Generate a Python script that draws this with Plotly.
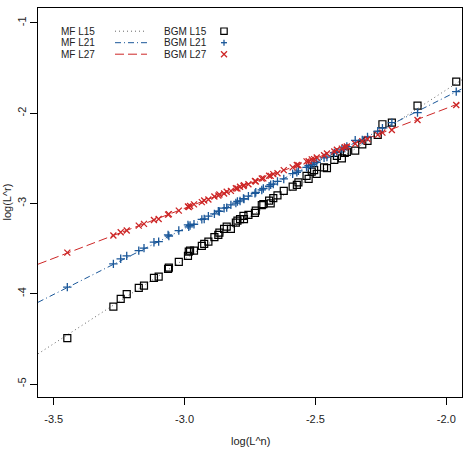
import plotly.graph_objects as go

# ---- data ----
log_Ln = [-3.448, -3.272, -3.244, -3.221, -3.175, -3.155, -3.117, -3.099, -3.063, -3.060,
          -3.022, -2.987, -2.984, -2.979, -2.964, -2.934, -2.925, -2.909, -2.886, -2.871,
          -2.867, -2.849, -2.839, -2.823, -2.804, -2.798, -2.788, -2.775, -2.773, -2.756,
          -2.731, -2.728, -2.705, -2.699, -2.677, -2.671, -2.661, -2.645, -2.621, -2.587,
          -2.571, -2.565, -2.534, -2.526, -2.514, -2.505, -2.495, -2.467, -2.456, -2.428,
          -2.418, -2.399, -2.388, -2.380, -2.348, -2.321, -2.301, -2.262, -2.244, -2.208,
          -2.110, -1.962]

bgm_L15 = [-4.492, -4.142, -4.057, -4.004, -3.935, -3.909, -3.824, -3.810, -3.724, -3.710,
           -3.647, -3.580, -3.533, -3.522, -3.522, -3.470, -3.447, -3.422, -3.373, -3.348,
           -3.322, -3.281, -3.256, -3.281, -3.212, -3.189, -3.174, -3.137, -3.174, -3.126,
           -3.104, -3.079, -3.019, -3.008, -2.968, -2.999, -2.941, -2.910, -2.860, -2.813,
           -2.794, -2.766, -2.694, -2.728, -2.647, -2.631, -2.672, -2.600, -2.609, -2.517,
           -2.473, -2.501, -2.440, -2.429, -2.414, -2.344, -2.307, -2.240, -2.122, -2.104,
           -1.916, -1.650]

bgm_L21 = [-3.927, -3.669, -3.613, -3.580, -3.522, -3.495, -3.429, -3.422, -3.348, -3.360,
           -3.300, -3.237, -3.258, -3.244, -3.230, -3.176, -3.172, -3.140, -3.115, -3.085,
           -3.088, -3.052, -3.046, -3.015, -2.995, -2.978, -2.972, -2.945, -2.950, -2.918,
           -2.888, -2.876, -2.850, -2.834, -2.809, -2.792, -2.785, -2.755, -2.728, -2.670,
           -2.655, -2.638, -2.600, -2.582, -2.571, -2.552, -2.543, -2.495, -2.486, -2.440,
           -2.431, -2.397, -2.388, -2.369, -2.300, -2.296, -2.262, -2.200, -2.166, -2.104,
           -1.993, -1.761]

bgm_L27 = [-3.544, -3.355, -3.318, -3.300, -3.245, -3.226, -3.182, -3.171, -3.123, -3.118,
           -3.079, -3.034, -3.040, -3.027, -3.010, -2.985, -2.966, -2.955, -2.922, -2.913,
           -2.900, -2.890, -2.870, -2.860, -2.832, -2.833, -2.815, -2.808, -2.798, -2.786,
           -2.750, -2.756, -2.724, -2.722, -2.692, -2.694, -2.675, -2.664, -2.630, -2.600,
           -2.574, -2.576, -2.533, -2.532, -2.511, -2.508, -2.490, -2.466, -2.447, -2.424,
           -2.405, -2.392, -2.376, -2.368, -2.338, -2.310, -2.285, -2.240, -2.215, -2.185,
           -2.074, -1.908]

# MF fitted lines: value at x = -3.56 and slope
mf_names = ["MF L15", "MF L21", "MF L27"]
mf_y0 = [-4.666, -4.095, -3.673]
mf_slope = [1.875, 1.46, 1.107]

bgm_names = ["BGM L15", "BGM L21", "BGM L27"]

x_range = [-3.560, -1.940]
y_range = [-5.144, -0.834]
x_ticks = [-3.5, -3.0, -2.5, -2.0]
x_ticklabels = ["-3.5", "-3.0", "-2.5", "-2.0"]
y_ticks = [-5, -4, -3, -2, -1]
y_ticklabels = ["-5", "-4", "-3", "-2", "-1"]

RED = "#CD2626"
BLUE = "#1A5799"
BLACK = "#000000"
GRAY = "#666666"

FONT = "Liberation Sans, Arial, sans-serif"

fig = go.Figure()

line_styles = [
    dict(color=GRAY, width=1, dash="1px,3px"),
    dict(color=BLUE, width=1, dash="6px,3px,1px,3px"),
    dict(color=RED, width=1, dash="9px,4px"),
]
for name, y0, s, ls in zip(mf_names, mf_y0, mf_slope, line_styles):
    xs = [x_range[0], x_range[1]]
    ys = [y0, y0 + s * (x_range[1] - x_range[0])]
    fig.add_trace(go.Scatter(x=xs, y=ys, mode="lines", line=ls, name=name,
                             showlegend=False, hoverinfo="skip"))

fig.add_trace(go.Scatter(x=log_Ln, y=bgm_L15, mode="markers", name="BGM L15",
                         marker=dict(symbol="square-open", size=7, color=BLACK,
                                     line=dict(width=1.2, color=BLACK)),
                         showlegend=False))
fig.add_trace(go.Scatter(x=log_Ln, y=bgm_L21, mode="markers", name="BGM L21",
                         marker=dict(symbol="cross-thin-open", size=6, color=BLUE,
                                     line=dict(width=1.3, color=BLUE)),
                         showlegend=False))
fig.add_trace(go.Scatter(x=log_Ln, y=bgm_L27, mode="markers", name="BGM L27",
                         marker=dict(symbol="x-thin-open", size=6, color=RED,
                                     line=dict(width=1.3, color=RED)),
                         showlegend=False))

# ---- plot geometry (pixels) ----
W, H = 470, 450
L, R, T, B = 38, 8, 8, 53
pw = W - L - R
ph = H - T - B


def px(xp):
    return (xp - L) / pw


def py(yp):
    return (H - B - yp) / ph


annotations = []
shapes = []

# legend (text left, symbol right, as in reference)
rows_y = [31.2, 42.7, 54.2]
for i, yy in enumerate(rows_y):
    annotations.append(dict(xref="paper", yref="paper", x=px(60), y=py(yy),
                            text=mf_names[i], showarrow=False, xanchor="left",
                            yanchor="middle", borderpad=0,
                            font=dict(size=10, family=FONT, color="#222")))
    annotations.append(dict(xref="paper", yref="paper", x=px(162.5), y=py(yy),
                            text=bgm_names[i], showarrow=False, xanchor="left",
                            yanchor="middle", borderpad=0,
                            font=dict(size=10, family=FONT, color="#222")))
    shapes.append(dict(type="line", xref="paper", yref="paper",
                       x0=px(115), x1=px(147), y0=py(yy), y1=py(yy),
                       line=line_styles[i]))

# legend markers
mx = 224
shapes.append(dict(type="rect", xref="paper", yref="paper",
                   x0=px(mx - 3.2), x1=px(mx + 3.2), y0=py(rows_y[0] - 3.2), y1=py(rows_y[0] + 3.2),
                   line=dict(color=BLACK, width=1.2)))
shapes.append(dict(type="line", xref="paper", yref="paper",
                   x0=px(mx - 3), x1=px(mx + 3), y0=py(rows_y[1]), y1=py(rows_y[1]),
                   line=dict(color=BLUE, width=1.3)))
shapes.append(dict(type="line", xref="paper", yref="paper",
                   x0=px(mx), x1=px(mx), y0=py(rows_y[1] - 3), y1=py(rows_y[1] + 3),
                   line=dict(color=BLUE, width=1.3)))
shapes.append(dict(type="line", xref="paper", yref="paper",
                   x0=px(mx - 3), x1=px(mx + 3), y0=py(rows_y[2] - 3), y1=py(rows_y[2] + 3),
                   line=dict(color=RED, width=1.3)))
shapes.append(dict(type="line", xref="paper", yref="paper",
                   x0=px(mx - 3), x1=px(mx + 3), y0=py(rows_y[2] + 3), y1=py(rows_y[2] - 3),
                   line=dict(color=RED, width=1.3)))

# axis titles
annotations.append(dict(xref="paper", yref="paper", x=0.5, y=py(441),
                        text="log(L^n)", showarrow=False, xanchor="center", yanchor="middle",
                        font=dict(size=11, family=FONT, color="#222")))
annotations.append(dict(xref="paper", yref="paper", x=px(6), y=0.5,
                        text="log(L^r)", showarrow=False, xanchor="center", yanchor="middle",
                        textangle=-90, borderpad=0,
                        font=dict(size=11, family=FONT, color="#222")))

fig.update_layout(
    width=W, height=H, autosize=False,
    margin=dict(l=L, r=R, t=T, b=B),
    paper_bgcolor="white", plot_bgcolor="white",
    showlegend=False,
    font=dict(family=FONT, size=11, color="#222"),
    annotations=annotations, shapes=shapes,
    xaxis=dict(range=x_range, tickvals=x_ticks, ticktext=x_ticklabels,
               showgrid=False, zeroline=False, showline=True, mirror=True,
               linecolor="black", linewidth=1, ticks="outside", ticklen=7,
               tickcolor="black", tickwidth=1, ticklabelstandoff=5,
               tickfont=dict(size=11, family=FONT)),
    yaxis=dict(range=y_range, tickvals=y_ticks, ticktext=y_ticklabels,
               showgrid=False, zeroline=False, showline=True, mirror=True,
               linecolor="black", linewidth=1, ticks="outside", ticklen=7,
               tickcolor="black", tickwidth=1, tickangle=-90,
               tickfont=dict(size=11, family=FONT)),
)

fig.write_html("out.html")
